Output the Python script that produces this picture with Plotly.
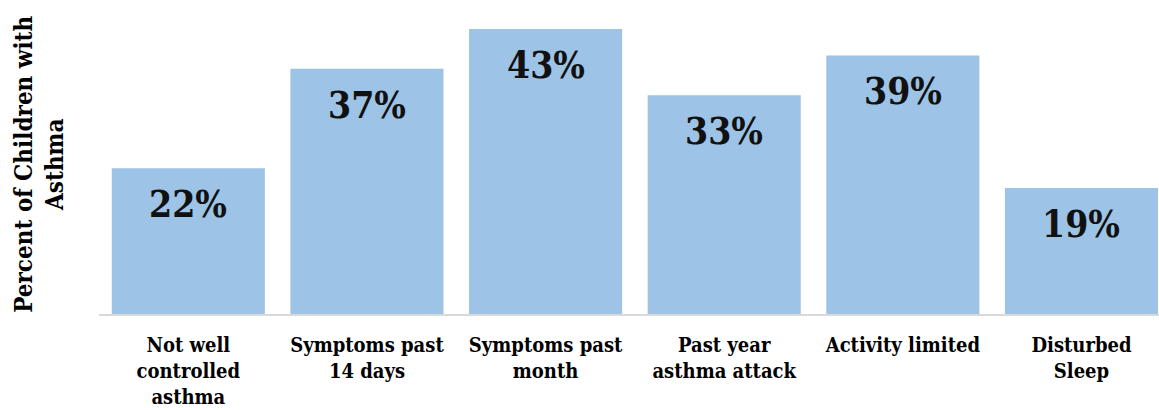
import plotly.graph_objects as go

categories = ["Not well<br>controlled<br>asthma", "Symptoms past<br>14 days", "Symptoms past<br>month",
              "Past year<br>asthma attack", "Activity limited", "Disturbed<br>Sleep"]
values = [22, 37, 43, 33, 39, 19]
labels = ["22%", "37%", "43%", "33%", "39%", "19%"]

FONT_C = "DejaVu Serif Condensed, DejaVu Serif"
fig = go.Figure()
fig.add_trace(go.Bar(x=list(range(len(categories))), y=values, marker=dict(color="#9DC3E6", line=dict(width=0)),
                     hoverinfo="skip"))

for i, (v, t) in enumerate(zip(values, labels)):
    fig.add_annotation(x=i, y=v, text="<b>%s</b>" % t, showarrow=False, yanchor="middle",
                       yshift=-36, font=dict(family=FONT_C, size=37, color="#111111"))

fig.add_annotation(xref="paper", yref="paper", x=0, y=0.478, xanchor="right", yanchor="middle",
                   xshift=-28, textangle=-90, showarrow=False,
                   text="<b>Percent of Children with<br>Asthma</b>",
                   font=dict(family=FONT_C, size=24, color="#000000"))

fig.update_layout(
    width=1159, height=410,
    margin=dict(l=99, r=0, t=2, b=96),
    plot_bgcolor="white", paper_bgcolor="white",
    bargap=0.143, showlegend=False,
    xaxis=dict(range=[-0.5, 5.434], tickmode="array", tickvals=list(range(len(categories))),
               ticktext=["<b>%s</b>" % c for c in categories], showgrid=False, zeroline=False,
               showline=True, linecolor="#D9D9D9", linewidth=2, ticks="", ticklabelstandoff=12,
               tickfont=dict(family=FONT_C, size=20, color="#000000")),
    yaxis=dict(range=[0, 47.06], showgrid=False, zeroline=False, showticklabels=False, showline=False),
)
fig.write_html("out.html")
